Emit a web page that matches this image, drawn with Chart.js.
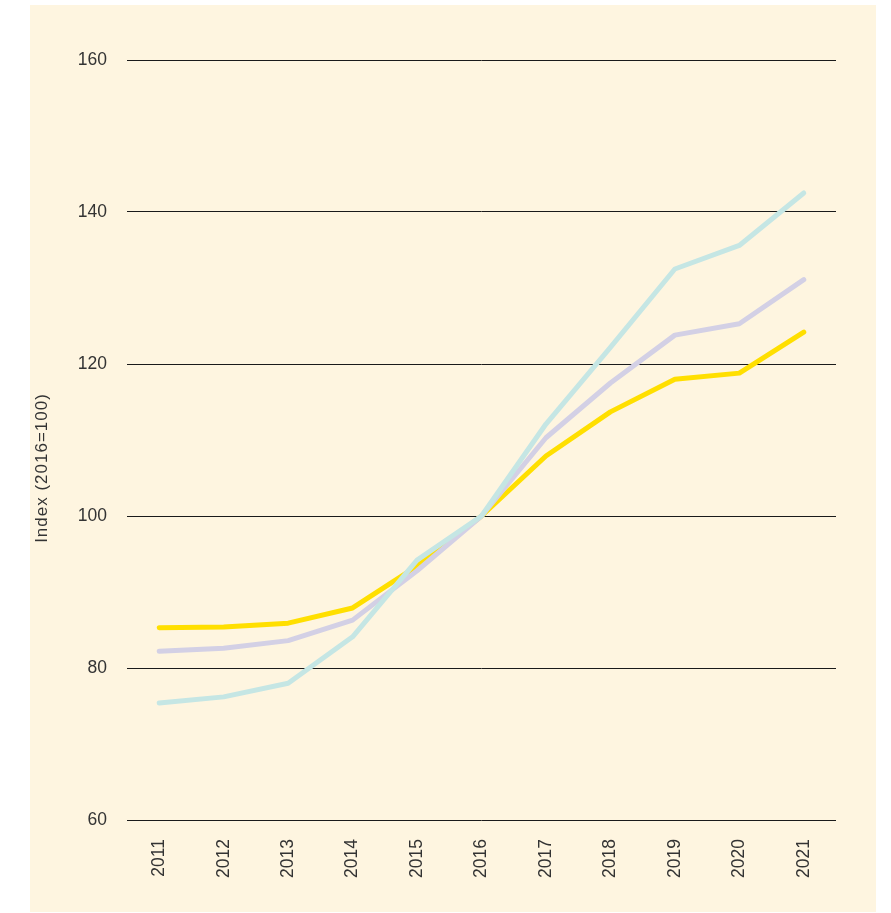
<!DOCTYPE html>
<html>
<head>
<meta charset="utf-8">
<script src="https://cdn.jsdelivr.net/npm/chart.js@4"></script>
<style>
  html, body { margin: 0; padding: 0; background: #ffffff; }
  #panel {
    position: absolute; left: 30px; top: 5px;
    width: 846px; height: 907px;
    background: #fef5e0;
  }
</style>
</head>
<body>
<div id="panel"><canvas id="indexChart" width="846" height="907"></canvas></div>
<script>
const years = ['2011','2012','2013','2014','2015','2016','2017','2018','2019','2020','2021'];
const yellowSeries = [85.3, 85.4, 85.9, 87.9, 93.4, 100, 107.9, 113.7, 118.0, 118.8, 124.2];
const lilacSeries  = [82.2, 82.6, 83.6, 86.3, 92.8, 100, 110.3, 117.5, 123.8, 125.3, 131.1];
const tealSeries   = [75.4, 76.2, 78.0, 84.1, 94.2, 100, 112.1, 122.2, 132.5, 135.6, 142.5];
const yTicks = [60, 80, 100, 120, 140, 160];
const yTitle = 'Index (2016=100)';

const fontFamily = '"Liberation Sans", Arial, Helvetica, sans-serif';
const textColor = '#333333';

function lineSet(data, color){
  return {
    data: data,
    borderColor: color,
    backgroundColor: color,
    borderWidth: 5,
    borderCapStyle: 'round',
    borderJoinStyle: 'round',
    pointRadius: 0,
    tension: 0,
    fill: false
  };
}

// axis title sits a bit below the middle of the axis, so it is drawn by hand
const yTitlePlugin = {
  id: 'yTitle',
  afterDraw(chart){
    const c = chart.ctx;
    c.save();
    c.translate(12, 463);
    c.rotate(-Math.PI / 2);
    c.font = '17px ' + fontFamily;
    c.letterSpacing = '1px';
    c.fillStyle = textColor;
    c.textAlign = 'center';
    c.textBaseline = 'middle';
    c.fillText(yTitle, 0, 0);
    c.restore();
  }
};

const ctx = document.getElementById('indexChart').getContext('2d');
new Chart(ctx, {
  type: 'line',
  data: {
    labels: years,
    datasets: [
      lineSet(tealSeries, '#c5e6e4'),
      lineSet(lilacSeries, '#d3d0e5'),
      lineSet(yellowSeries, '#ffdf00')
    ]
  },
  options: {
    responsive: false,
    devicePixelRatio: 1,
    animation: false,
    layout: { padding: { top: 55, right: 40, left: 0, bottom: 0 } },
    plugins: { legend: { display: false }, tooltip: { enabled: false } },
    scales: {
      x: {
        offset: true,
        grid: { display: false, drawTicks: false },
        border: { display: false },
        ticks: {
          color: textColor,
          font: { family: fontFamily, size: 17.5 },
          minRotation: 90, maxRotation: 90,
          padding: 19
        },
        afterFit: s => { s.height = 92; }
      },
      y: {
        min: 60, max: 160,
        afterBuildTicks: s => { s.ticks = yTicks.map(v => ({ value: v })); },
        grid: { color: '#1a1a1a', lineWidth: 1, drawTicks: false },
        border: { display: false },
        ticks: {
          color: textColor,
          font: { family: fontFamily, size: 17.5 },
          padding: 20
        },
        afterFit: s => { s.width = 97; }
      }
    }
  },
  plugins: [yTitlePlugin]
});
</script>
</body>
</html>
